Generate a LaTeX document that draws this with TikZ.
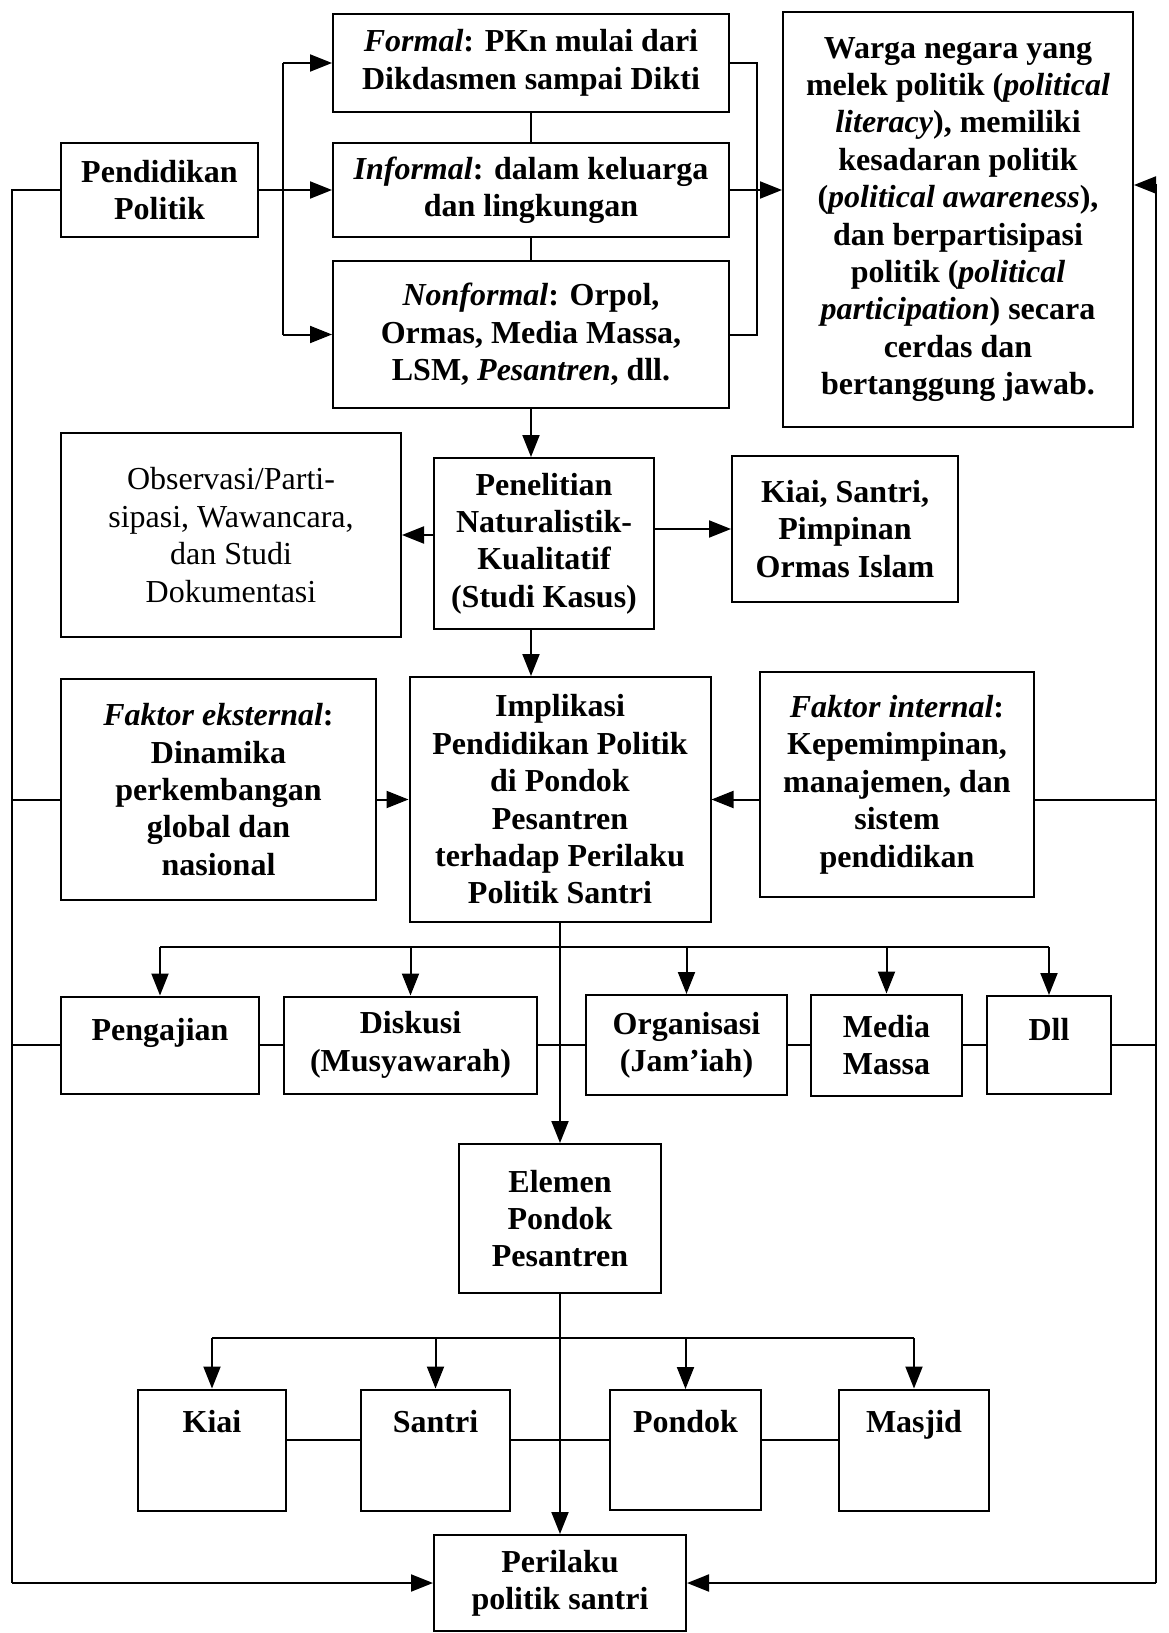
\documentclass[tikz,border=0pt]{standalone}
\usepackage{fontspec}
\setmainfont{Liberation Serif}
\usepackage{tikz}
\usetikzlibrary{arrows.meta}
\tikzstyle{n}=[rectangle,draw=black,line width=1pt,align=center,inner sep=2pt,font=\fontsize{16}{18.7}\selectfont\bfseries]
\tikzstyle{rm}=[font=\fontsize{16}{18.7}\selectfont\mdseries]
\tikzstyle{e}=[arrows={-Triangle[length=11pt,width=8.5pt]}]

\begin{document}
\begin{tikzpicture}[x=0.5pt,y=-0.5pt,line width=1pt]
\useasboundingbox (0,0) rectangle (1168,1633);

% Nodes
\node[n,minimum width=98.5pt,minimum height=47pt]   (pendidikan) at (159.5,190)  {Pendidikan\\Politik};
\node[n,minimum width=198pt,minimum height=49pt]    (formal)     at (531,63)     {\textit{Formal}: PKn mulai dari\\Dikdasmen sampai Dikti};
\node[n,minimum width=198pt,minimum height=47pt]    (informal)   at (531,190)    {\textit{Informal}: dalam keluarga\\dan lingkungan};
\node[n,minimum width=198pt,minimum height=73.5pt]  (nonformal)  at (531,334.5)  {\textit{Nonformal}: Orpol,\\Ormas, Media Massa,\\LSM, \textit{Pesantren}, dll.};
\node[n,minimum width=175pt,minimum height=207.5pt] (warga)      at (958,219.5)  {Warga negara yang\\melek politik (\textit{political}\\\textit{literacy}), memiliki\\kesadaran politik\\(\textit{political awareness}),\\dan berpartisipasi\\politik (\textit{political}\\\textit{participation}) secara\\cerdas dan\\bertanggung jawab.};
\node[n,rm,minimum width=170pt,minimum height=102pt] (observasi) at (231,535)    {Observasi/Parti-\\sipasi, Wawancara,\\dan Studi\\Dokumentasi};
\node[n,minimum width=110pt,minimum height=85.5pt]  (penelitian) at (544,543.5)  {Penelitian\\Naturalistik-\\Kualitatif\\(Studi Kasus)};
\node[n,minimum width=113pt,minimum height=73pt]    (informan)   at (845,529)    {Kiai, Santri,\\Pimpinan\\Ormas Islam};
\node[n,minimum width=157.5pt,minimum height=110.5pt] (eksternal) at (218.5,789.5) {\textit{Faktor eksternal}:\\Dinamika\\perkembangan\\global dan\\nasional};
\node[n,minimum width=150.5pt,minimum height=122.5pt] (implikasi) at (560,799.5)  {Implikasi\\Pendidikan Politik\\di Pondok\\Pesantren\\terhadap Perilaku\\Politik Santri};
\node[n,minimum width=137pt,minimum height=112.5pt] (internal)   at (897,784.5)  {\textit{Faktor internal}:\\Kepemimpinan,\\manajemen, dan\\sistem\\pendidikan};
\node[n,minimum width=99pt,minimum height=48.5pt]   (pengajian)  at (160,1045)   {Pengajian\\[-3pt]\mbox{}};
\node[n,minimum width=126.5pt,minimum height=48.5pt] (diskusi)   at (410.5,1045) {Diskusi\\(Musyawarah)};
\node[n,minimum width=100.5pt,minimum height=50pt]  (organisasi) at (686.5,1045) {Organisasi\\(Jam'iah)};
\node[n,minimum width=75.5pt,minimum height=50.5pt] (media)      at (886.5,1045) {Media\\Massa};
\node[n,minimum width=62pt,minimum height=49pt]     (dll)        at (1049,1045)  {Dll\\[-3pt]\mbox{}};
\node[n,minimum width=101pt,minimum height=74.5pt]  (elemen)     at (560,1218.5) {Elemen\\Pondok\\Pesantren};
\node[n,minimum width=74pt,minimum height=60.5pt]   (kiai)       at (212,1450)   {Kiai\\[10pt]\mbox{}};
\node[n,minimum width=74.5pt,minimum height=60.5pt] (santri)     at (435.5,1450) {Santri\\[10pt]\mbox{}};
\node[n,minimum width=75.5pt,minimum height=60pt]   (pondok)     at (685.5,1450) {Pondok\\[10pt]\mbox{}};
\node[n,minimum width=75pt,minimum height=60.5pt]   (masjid)     at (914,1450)   {Masjid\\[10pt]\mbox{}};
\node[n,minimum width=126pt,minimum height=48pt]    (perilaku)   at (560,1583)   {Perilaku\\politik santri};

% Rails and buses
\coordinate (fork)  at (283,190);
\coordinate (merge) at (757,190);
\coordinate (lrail) at (12,190);
\coordinate (rrail) at (1156,185);
\coordinate (bus1)  at (560,947);
\coordinate (bus2)  at (560,1338);

% Lines
\draw (fork |- formal) -- (fork |- nonformal)
      (formal) -- (informal)
      (informal) -- (nonformal)
      (formal.east) -| (merge |- nonformal) -- (nonformal.east)
      (pendidikan.west) -- (lrail) -- (lrail |- perilaku)
      (eksternal.west |- implikasi) -- (lrail |- implikasi)
      (pengajian) -- (lrail |- pengajian)
      (rrail) -- (rrail |- perilaku)
      (internal.east |- implikasi) -- (rrail |- implikasi)
      (dll) -- (rrail |- dll)
      (pengajian |- bus1) -- (dll |- bus1)
      (pengajian) -- (diskusi)
      (diskusi) -- (organisasi)
      (organisasi) -- (media)
      (media) -- (dll)
      (kiai |- bus2) -- (masjid |- bus2)
      ([yshift=5pt]kiai.east) -- ([yshift=5pt]santri.west)
      ([yshift=5pt]santri.east) -- ([yshift=5pt]pondok.west)
      ([yshift=5pt]pondok.east) -- ([yshift=5pt]masjid.west);

% Edges
\path[e] (pendidikan)          edge (informal)
         (fork |- formal)      edge (formal)
         (fork |- nonformal)   edge (nonformal)
         (informal.east)       edge (informal.east -| warga.west)
         (rrail)               edge (rrail -| warga.east)
         (nonformal)           edge (nonformal |- penelitian.north)
         (penelitian.west |- observasi) edge (observasi)
         (penelitian.east |- informan)  edge (informan)
         (penelitian.south -| nonformal) edge (nonformal |- implikasi.north)
         (eksternal.east |- implikasi)  edge (implikasi)
         (internal.west |- implikasi)   edge (implikasi)
         (implikasi)           edge (elemen)
         (pengajian |- bus1)   edge (pengajian)
         (diskusi |- bus1)     edge (diskusi)
         (organisasi |- bus1)  edge (organisasi)
         (media |- bus1)       edge (media)
         (dll |- bus1)         edge (dll)
         (elemen)              edge (perilaku)
         (kiai |- bus2)        edge (kiai)
         (santri |- bus2)      edge (santri)
         (pondok |- bus2)      edge (pondok)
         (masjid |- bus2)      edge (masjid)
         (lrail |- perilaku)   edge (perilaku)
         (rrail |- perilaku)   edge (perilaku);

\end{tikzpicture}
\end{document}
